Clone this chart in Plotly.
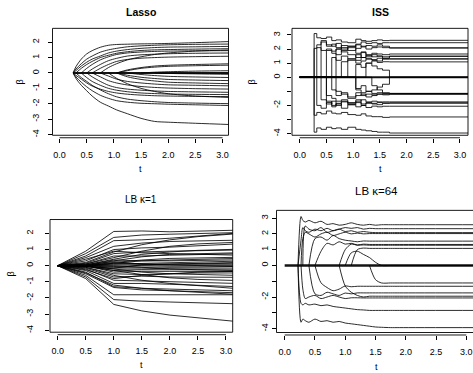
import plotly.graph_objects as go

W, H = 473, 373

# ---------------- data ----------------
X_TICKS = [0, 0.5, 1.0, 1.5, 2.0, 2.5, 3.0]
X_TICK_TEXT = ["0.0", "0.5", "1.0", "1.5", "2.0", "2.5", "3.0"]
Y_TICKS_A = [2, 1, 0, -1, -2, -3, -4]
Y_TEXT_A = ["2", "1", "0", "-1", "-2", "-3", "-4"]
Y_TICKS_B = [3, 2, 1, 0, -1, -2, -3, -4]
Y_TEXT_B = ["3", "2", "1", "0", "", "-2", "", "-4"]

# Lasso: t grid and paths (None = not yet entered)
LASSO_T = [0.25, 0.3, 0.4, 0.5, 0.6, 0.75, 0.9, 1.05, 1.25, 1.5, 1.75, 2.0, 2.5, 3.2]
LASSO_ZERO = [0, 0, 0, 0, 0, 0, 0, 0, 0, 0, 0, 0, 0, 0]
LASSO_PATHS = [
    [0, 0.4, 0.9, 1.24, 1.45, 1.67, 1.8, 1.85, 1.87, 1.89, 1.9, 1.92, 1.97, 2.05],
    [0, 0.25, 0.6, 0.9, 1.1, 1.35, 1.5, 1.6, 1.7, 1.76, 1.8, 1.83, 1.86, 1.88],
    [0, 0.15, 0.45, 0.7, 0.9, 1.1, 1.3, 1.42, 1.52, 1.6, 1.65, 1.68, 1.7, 1.73],
    [None, 0, 0.3, 0.55, 0.75, 1.0, 1.15, 1.28, 1.38, 1.46, 1.5, 1.52, 1.55, 1.58],
    [None, None, 0, 0.3, 0.55, 0.85, 1.05, 1.2, 1.3, 1.36, 1.4, 1.42, 1.44, 1.45],
    [None, None, None, 0, 0.25, 0.55, 0.8, 0.95, 1.1, 1.18, 1.22, 1.25, 1.28, 1.3],
    [None, None, None, None, 0, 0.3, 0.55, 0.75, 0.88, 0.96, 1.0, 1.03, 1.06, 1.09],
    [None, None, None, None, None, 0, 0.35, 0.6, 0.85, 1.05, 1.2, 1.3, 1.42, 1.5],
    [None, None, None, None, None, None, None, 0, 0.2, 0.35, 0.45, 0.5, 0.55, 0.6],
    [None, None, None, None, None, None, None, 0, 0.15, 0.3, 0.38, 0.43, 0.47, 0.51],
    [None, None, None, None, None, None, None, None, None, 0, 0.05, 0.08, 0.12, 0.15],
    [0, -0.35, -0.8, -1.16, -1.5, -1.9, -2.15, -2.4, -2.65, -2.95, -3.15, -3.2, -3.27, -3.36],
    [0, -0.25, -0.6, -0.9, -1.15, -1.45, -1.65, -1.8, -1.9, -1.97, -2.0, -2.03, -2.07, -2.12],
    [None, 0, -0.3, -0.55, -0.8, -1.1, -1.35, -1.55, -1.7, -1.8, -1.87, -1.92, -1.96, -2.0],
    [0, -0.15, -0.4, -0.65, -0.85, -1.05, -1.2, -1.3, -1.38, -1.44, -1.48, -1.5, -1.52, -1.54],
    [None, None, 0, -0.3, -0.55, -0.8, -1.0, -1.12, -1.22, -1.3, -1.34, -1.37, -1.39, -1.41],
    [None, None, None, 0, -0.25, -0.55, -0.8, -0.95, -1.05, -1.12, -1.17, -1.2, -1.23, -1.26],
    [None, None, None, None, 0, -0.25, -0.5, -0.65, -0.78, -0.88, -0.94, -0.98, -1.02, -1.05],
    [None, None, None, None, None, 0, -0.2, -0.4, -0.55, -0.65, -0.72, -0.77, -0.8, -0.84],
    [None, None, None, None, None, None, 0, -0.35, -0.7, -1.0, -1.2, -1.35, -1.5, -1.6],
    [None, None, None, None, None, None, None, 0, -0.25, -0.42, -0.52, -0.6, -0.65, -0.7],
    [None, None, None, None, None, None, None, 0, -0.15, -0.28, -0.36, -0.42, -0.46, -0.5],
    [None, None, None, None, None, None, None, None, 0, -0.1, -0.17, -0.22, -0.26, -0.3],
    [None, None, None, None, None, None, None, None, None, None, 0, -0.03, -0.06, -0.09],
]

# ISS: step paths
ISS_T = [0, 0.27, 0.32, 0.4, 0.5, 0.6, 0.68, 0.78, 0.9, 1.05, 1.15, 1.24, 1.35, 1.45, 1.55, 1.68, 3.2]
ISS_ZERO = [0, 0, 0, 0, 0, 0, 0, 0, 0, 0, 0, 0, 0, 0, 0, 0, 0]
ISS_PATHS = [
    [0, 3.1, 2.8, 2.75, 2.85, 2.6, 2.65, 2.5, 2.45, 2.7, 2.6, 2.55, 2.6, 2.65, 2.6, 2.62, 2.62],
    [0, 0, 2.3, 2.5, 2.2, 2.35, 2.1, 2.25, 2.2, 2.35, 2.5, 2.4, 2.45, 2.4, 2.45, 2.45, 2.45],
    [0, 2.05, 2.1, 1.9, 2.0, 1.85, 2.0, 2.1, 1.9, 2.05, 2.2, 2.0, 2.1, 2.15, 2.1, 2.08, 2.08],
    [0, 0, 0, 2.6, 2.3, 2.2, 2.4, 2.0, 2.1, 2.3, 2.15, 2.25, 2.2, 2.3, 2.2, 2.08, 2.08],
    [0, 0, 0, 0, 1.9, 1.7, 1.6, 1.9, 2.2, 1.7, 1.8, 1.6, 1.7, 1.65, 1.6, 1.65, 1.65],
    [0, 0, 0, 0, 0, 1.4, 1.2, 1.5, 1.3, 1.6, 1.4, 1.55, 1.45, 1.5, 1.35, 1.49, 1.49],
    [0, 0, 0, 0, 0, 0, 2.0, 1.8, 1.6, 1.4, 1.75, 1.45, 1.6, 1.5, 1.45, 1.49, 1.49],
    [0, 0, 0, 0, 0, 0, 0, 1.1, 1.3, 1.2, 1.4, 1.3, 1.25, 1.35, 1.3, 1.3, 1.3],
    [0, 0, 0, 0, 0, 0, 0, 0, 1.2, 1.0, 1.15, 1.3, 1.2, 1.15, 1.3, 1.3, 1.3],
    [0, 0, 0, 0, 0, 0, 0, 0, 0, 0, 0, 1.0, 1.15, 1.05, 1.1, 1.09, 1.09],
    [0, 0, 0, 0, 0, 0, 0, 0, 0, 0.9, 0.7, 1.0, 0.8, 0.6, 0.5, 0, 0],
    [0, -3.9, -3.6, -3.7, -3.55, -3.65, -3.6, -3.7, -3.55, -3.7, -3.75, -3.8, -3.85, -3.9, -3.9, -3.96, -3.96],
    [0, -2.7, -2.5, -2.6, -2.4, -2.55, -2.6, -2.5, -2.65, -2.7, -2.6, -2.75, -2.8, -2.8, -2.85, -2.82, -2.82],
    [0, 0, -2.0, -2.2, -1.8, -2.1, -1.9, -2.2, -1.95, -2.1, -2.0, -2.15, -2.05, -2.1, -2.06, -2.06, -2.06],
    [0, 0, 0, -1.6, -1.9, -1.7, -2.0, -1.75, -1.85, -1.6, -1.9, -1.8, -1.85, -1.8, -1.83, -1.83, -1.83],
    [0, 0, 0, 0, -1.7, -2.0, -1.85, -1.7, -1.95, -1.8, -2.0, -1.85, -1.9, -1.95, -1.85, -1.83, -1.83],
    [0, 0, 0, 0, -1.3, -1.5, -1.7, -1.6, -1.8, -1.7, -1.6, -1.75, -1.7, -1.75, -1.75, -1.75, -1.75],
    [0, 0, 0, 0, 0, -0.9, -1.3, -1.1, -1.5, -1.3, -1.2, -1.4, -1.3, -1.2, -1.25, -1.2, -1.2],
    [0, 0, 0, 0, 0, 0, -1.0, -1.2, -1.4, -1.1, -1.3, -1.2, -1.25, -1.2, -1.2, -1.2, -1.2],
    [0, 0, 0, 0, 0, 0, 0, 0, 0, -0.9, -1.1, -1.0, -1.15, -1.1, -1.15, -1.15, -1.15],
    [0, 0, 0, 0, 0, 0, 0, 0, 0, 0, 0, 0, -0.6, -0.9, -1.1, -1.15, -1.15],
    [0, 0, 0, 0, 0, 0, 0, 0, 0, -0.8, -0.6, -1.0, -0.9, -0.7, -0.5, 0, 0],
]

# LB kappa=1: piecewise linear paths
LB1_T = [0, 0.5, 1.0, 1.5, 2.0, 2.5, 3.2]
LB1_PATHS = [
    [0, 0.9, 2.12, 2.15, 2.1, 2.12, 2.2],
    [0, 0.75, 1.75, 1.9, 1.95, 2.0, 2.05],
    [0, 0.6, 1.55, 1.6, 1.7, 1.85, 2.02],
    [0, 0.2, 0.85, 1.3, 1.6, 1.8, 1.98],
    [0, 0.5, 1.2, 1.4, 1.5, 1.55, 1.58],
    [0, 0.1, 0.5, 0.9, 1.2, 1.35, 1.45],
    [0, 0.3, 1.0, 1.1, 1.15, 1.25, 1.35],
    [0, 0.05, 0.4, 0.7, 0.85, 0.95, 1.02],
    [0, 0.15, 0.75, 0.85, 0.9, 0.95, 0.97],
    [0, 0.0, 0.3, 0.55, 0.7, 0.75, 0.8],
    [0, 0.1, 0.6, 0.6, 0.65, 0.7, 0.74],
    [0, 0.4, 0.9, 0.8, 0.75, 0.7, 0.65],
    [0, 0.0, 0.2, 0.35, 0.45, 0.5, 0.52],
    [0, 0.0, 0.15, 0.3, 0.35, 0.4, 0.45],
    [0, 0.05, 0.35, 0.3, 0.3, 0.33, 0.36],
    [0, 0.0, 0.1, 0.15, 0.2, 0.25, 0.28],
    [0, 0.05, 0.25, 0.1, 0.05, 0.0, -0.05],
    [0, -0.05, -0.15, 0.05, 0.1, 0.15, 0.2],
    [0, 0.0, 0.15, 0.1, 0.1, 0.12, 0.15],
    [0, 0.0, 0.05, 0.05, 0.05, 0.05, 0.06],
    [0, 0.0, -0.05, 0.0, -0.02, 0.0, 0.0],
    [0, 0.0, -0.1, -0.1, -0.08, -0.08, -0.05],
    [0, 0.0, -0.2, -0.2, -0.15, -0.15, -0.15],
    [0, -0.05, -0.3, -0.25, -0.25, -0.25, -0.26],
    [0, 0.0, 0.0, -0.1, -0.2, -0.25, -0.3],
    [0, 0.0, -0.4, -0.35, -0.35, -0.35, -0.36],
    [0, -0.25, -0.8, -0.6, -0.5, -0.4, -0.35],
    [0, -0.1, -0.5, -0.55, -0.5, -0.45, -0.45],
    [0, -0.05, -0.2, -0.4, -0.5, -0.55, -0.6],
    [0, -0.15, -0.7, -0.65, -0.7, -0.7, -0.72],
    [0, 0.0, -0.3, -0.55, -0.75, -0.85, -0.92],
    [0, -0.2, -0.9, -0.95, -1.0, -1.05, -1.1],
    [0, -0.3, -1.1, -1.1, -1.15, -1.2, -1.3],
    [0, -0.1, -0.6, -0.9, -1.1, -1.25, -1.42],
    [0, -0.4, -1.3, -1.4, -1.45, -1.5, -1.56],
    [0, -0.5, -1.35, -1.5, -1.55, -1.6, -1.68],
    [0, -0.45, -1.2, -1.4, -1.55, -1.65, -1.78],
    [0, -0.6, -1.8, -1.8, -1.8, -1.8, -1.8],
    [0, -0.7, -2.1, -2.2, -2.25, -2.3, -2.36],
    [0, -0.8, -2.4, -2.8, -3.06, -3.25, -3.46],
]

# LB kappa=64: smooth paths
LB64_T = [0, 0.22, 0.27, 0.3, 0.34, 0.4, 0.5, 0.6, 0.7, 0.8, 0.9, 1.0, 1.1, 1.2, 1.3, 1.4, 1.5, 1.6, 1.75, 1.9, 3.2]
LB64_ZERO = [0, 0, 0, 0, 0, 0, 0, 0, 0, 0, 0, 0, 0, 0, 0, 0, 0, 0, 0, 0, 0]
LB64_PATHS = [
    [None, 0, 3.1, 2.85, 2.75, 2.85, 2.7, 2.8, 2.6, 2.65, 2.55, 2.6, 2.7, 2.6, 2.55, 2.6, 2.55, 2.58, 2.58, 2.58, 2.58],
    [None, 0, 1.6, 2.4, 2.2, 2.1, 2.3, 2.2, 2.35, 2.2, 2.3, 2.4, 2.35, 2.4, 2.3, 2.35, 2.33, 2.33, 2.33, 2.33, 2.33],
    [None, None, 0, 1.7, 2.1, 2.0, 1.8, 2.0, 2.1, 1.9, 2.0, 2.1, 2.0, 2.05, 2.0, 2.02, 2.02, 2.02, 2.02, 2.02, 2.02],
    [None, None, None, 0, 2.5, 2.3, 2.2, 2.4, 2.1, 2.2, 2.3, 2.15, 2.2, 2.1, 2.15, 2.1, 2.08, 2.08, 2.08, 2.08, 2.08],
    [None, None, None, None, None, 0, 1.7, 1.8, 1.6, 1.9, 1.7, 1.6, 1.55, 1.5, 1.55, 1.54, 1.54, 1.54, 1.54, 1.54, 1.54],
    [None, None, None, None, None, None, 0, 0.9, 1.4, 1.3, 1.5, 1.35, 1.4, 1.3, 1.35, 1.33, 1.33, 1.33, 1.33, 1.33, 1.33],
    [None, None, None, None, None, None, None, None, None, None, 0, 1.0, 1.35, 1.28, 1.3, 1.28, 1.28, 1.28, 1.28, 1.28, 1.28],
    [None, None, None, None, None, None, None, None, None, None, None, None, 0, 1.0, 1.1, 1.08, 1.08, 1.08, 1.08, 1.08, 1.08],
    [None, None, None, None, None, None, None, None, None, None, None, 0, 0.8, 0.9, 0.7, 0.5, 0.2, 0.0, 0.0, 0.0, 0.0],
    [None, 0, -3.6, -3.4, -3.5, -3.6, -3.4, -3.55, -3.5, -3.6, -3.55, -3.65, -3.7, -3.75, -3.8, -3.85, -3.9, -3.92, -3.94, -3.94, -3.94],
    [None, 0, -2.4, -2.5, -2.4, -2.5, -2.45, -2.55, -2.5, -2.6, -2.65, -2.7, -2.75, -2.8, -2.82, -2.85, -2.85, -2.85, -2.85, -2.85, -2.85],
    [None, None, 0, -1.5, -2.1, -2.0, -1.9, -2.1, -2.0, -1.9, -2.0, -2.1, -2.05, -2.05, -2.06, -2.06, -2.06, -2.06, -2.06, -2.06, -2.06],
    [None, None, None, None, None, 0, -1.8, -1.9, -1.7, -1.8, -1.9, -1.75, -1.8, -1.74, -1.74, -1.74, -1.74, -1.74, -1.74, -1.74, -1.74],
    [None, None, None, None, None, None, 0, -1.1, -1.4, -1.6, -1.5, -1.3, -1.35, -1.32, -1.32, -1.32, -1.32, -1.32, -1.32, -1.32, -1.32],
    [None, None, None, None, None, None, None, None, None, None, 0, -1.3, -1.7, -1.9, -2.0, -1.95, -1.95, -1.95, -1.95, -1.95, -1.95],
    [None, None, None, None, None, None, None, None, None, None, None, None, None, None, None, 0, -0.9, -1.11, -1.11, -1.11, -1.11],
]

# ---------------- layout (pixel geometry) ----------------
PANELS = [
    dict(box=(52.5, 228.5, 28.5, 136), xr=(-0.13, 3.11), yr=(-4.05, 2.9),
         yt=(Y_TICKS_A, Y_TEXT_A), title="<b>Lasso</b>", tpos=(140.5, 12), tsize=10.5,
         tlab=(140.5, 170), blab=(20, 83), fs=9, ystand=5),
    dict(box=(292, 468, 28.5, 136), xr=(-0.144, 3.15), yr=(-4.12, 3.47),
         yt=(Y_TICKS_B, Y_TEXT_B), title="<b>ISS</b>", tpos=(380, 12), tsize=10.5,
         tlab=(380, 170), blab=(252, 83), fs=9, ystand=3),
    dict(box=(50, 232.7, 220.7, 334), xr=(-0.137, 3.12), yr=(-4.12, 2.86),
         yt=(Y_TICKS_A, Y_TEXT_A), title="LB κ=1", tpos=(141, 201), tsize=10,
         tlab=(141, 367), blab=(11, 276), fs=9, ystand=8),
    dict(box=(276.5, 473, 211.5, 334.3), xr=(-0.135, 3.11), yr=(-4.25, 3.49),
         yt=(Y_TICKS_B, Y_TEXT_B), title="LB κ=64", tpos=(376, 192), tsize=11.5,
         tlab=(376, 369), blab=None, fs=9, ystand=0),
]

FONT = "Liberation Sans, Arial, sans-serif"
LW = 0.9
LC = "rgba(0,0,0,0.92)"


def ax_id(i):
    return "" if i == 1 else str(i)


fig = go.Figure()


def add_line(i, x, y, shape="linear", width=LW):
    fig.add_trace(go.Scatter(
        x=x, y=y, mode="lines", xaxis="x" + ax_id(i), yaxis="y" + ax_id(i),
        line=dict(color=LC, width=width, shape=shape, smoothing=0.8),
        connectgaps=False, hoverinfo="skip", showlegend=False))


for p in LASSO_PATHS:
    add_line(1, LASSO_T, p, "spline")
add_line(1, LASSO_T, LASSO_ZERO, "linear", 2.0)

for p in ISS_PATHS:
    add_line(2, ISS_T, p, "hv")
add_line(2, ISS_T, ISS_ZERO, "linear", 2.0)

for p in LB1_PATHS:
    add_line(3, LB1_T, p, "linear")

for p in LB64_PATHS:
    add_line(4, LB64_T, p, "spline")
add_line(4, LB64_T, LB64_ZERO, "linear", 2.6)

layout = dict(width=W, height=H, autosize=False, margin=dict(l=0, r=0, t=0, b=0),
              paper_bgcolor="white", plot_bgcolor="white", showlegend=False,
              font=dict(family=FONT, color="black"))
shapes = []
annotations = []

for k, pn in enumerate(PANELS):
    i = k + 1
    s = ax_id(i)
    L, R, T, B = pn["box"]
    axis_py = B + 2.5
    layout["xaxis" + s] = dict(
        domain=[L / W, min(R / W, 1.0)], range=list(pn["xr"]), anchor="free",
        position=1 - axis_py / H, showgrid=False, zeroline=False, showline=False,
        ticks="outside", ticklen=4, tickwidth=LW, tickcolor="black",
        tickvals=X_TICKS, ticktext=X_TICK_TEXT, ticklabelstandoff=4,
        tickfont=dict(size=pn["fs"], family=FONT, color="black"), fixedrange=True)
    layout["yaxis" + s] = dict(
        domain=[1 - B / H, 1 - T / H], range=list(pn["yr"]), anchor="x" + s,
        showgrid=False, zeroline=False, showline=False,
        ticks="outside", ticklen=4, tickwidth=LW, tickcolor="black",
        tickvals=pn["yt"][0], ticktext=pn["yt"][1], tickangle=-90,
        ticklabelstandoff=pn["ystand"],
        tickfont=dict(size=pn["fs"], family=FONT, color="black"), fixedrange=True)
    # box
    x1 = 1.0 if R < W else 1.1
    shapes.append(dict(type="rect", xref="x" + s + " domain", yref="y" + s + " domain",
                       x0=0, x1=x1, y0=0, y1=1, line=dict(color="black", width=LW)))
    # axis line from first to last tick
    x0r, x1r = pn["xr"]
    fx0 = (X_TICKS[0] - x0r) / (x1r - x0r)
    fx1 = (X_TICKS[-1] - x0r) / (x1r - x0r)
    shapes.append(dict(type="line", xref="x" + s + " domain", yref="paper",
                       x0=fx0, x1=fx1, y0=1 - axis_py / H, y1=1 - axis_py / H,
                       line=dict(color="black", width=LW)))
    annotations.append(dict(text=pn["title"], x=pn["tpos"][0] / W, y=1 - pn["tpos"][1] / H,
                            xref="paper", yref="paper", showarrow=False,
                            xanchor="center", yanchor="middle",
                            font=dict(size=pn["tsize"], family=FONT, color="black")))
    annotations.append(dict(text="t", x=pn["tlab"][0] / W, y=1 - pn["tlab"][1] / H,
                            xref="paper", yref="paper", showarrow=False,
                            xanchor="center", yanchor="middle",
                            font=dict(size=pn["fs"], family=FONT, color="black")))
    if pn["blab"]:
        annotations.append(dict(text="β", x=pn["blab"][0] / W, y=1 - pn["blab"][1] / H,
                                xref="paper", yref="paper", showarrow=False, textangle=-90,
                                xanchor="center", yanchor="middle",
                                font=dict(size=pn["fs"], family=FONT, color="black")))

layout["shapes"] = shapes
layout["annotations"] = annotations
fig.update_layout(**layout)
fig.write_html("out.html", config={"displayModeBar": False},
               post_script="document.body.style.margin='0';document.body.style.overflow='hidden';")
